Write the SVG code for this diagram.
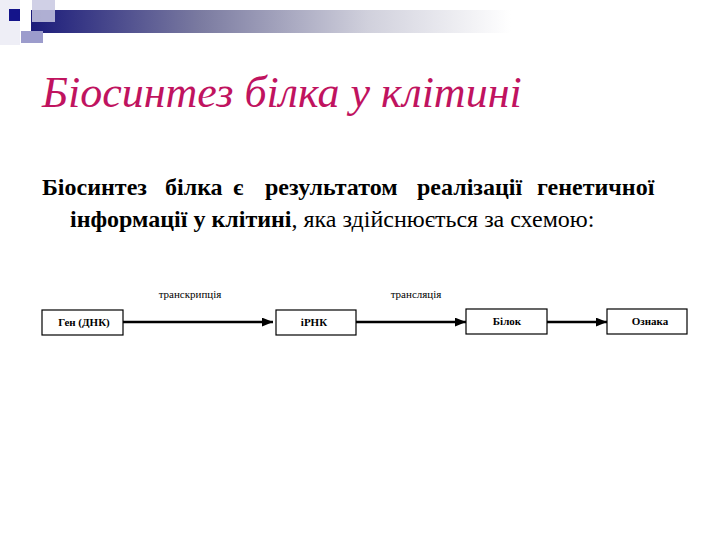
<svg xmlns="http://www.w3.org/2000/svg" width="720" height="540" viewBox="0 0 720 540">
<style>
.title{font-style:italic;font-size:44px;fill:#c0135f}
.body{font-size:24px;fill:#000}
.b{font-weight:bold}
.box{fill:#fff;stroke:#000;stroke-width:1.2}
.lbl{font-size:11px;font-weight:bold;text-anchor:middle;fill:#000}
.edge{font-size:11px;text-anchor:middle;fill:#000}
.conn{stroke:#000;stroke-width:2.5;fill:none}
</style>
<defs>
<linearGradient id="bar" x1="0" y1="0" x2="1" y2="0">
<stop offset="0" stop-color="#1b1b7a"/>
<stop offset="0.35" stop-color="#7a7aa0"/>
<stop offset="0.7" stop-color="#d0d0dc"/>
<stop offset="1" stop-color="#ffffff"/>
</linearGradient>
<marker id="ah" viewBox="0 0 10 10" refX="10" refY="5" markerWidth="4.5" markerHeight="3.6" orient="auto" markerUnits="strokeWidth" preserveAspectRatio="none">
<path d="M0,0 L10,5 L0,10 z" fill="#000"/>
</marker>
</defs>
<rect width="720" height="540" fill="#fff"/>
<g id="decor">
<rect x="0" y="0" width="20" height="45" fill="#eeeef6"/>
<rect x="31" y="10" width="480" height="23" fill="url(#bar)"/>
<rect x="32" y="0" width="23" height="22" fill="#c8c8e2" opacity="0.85"/>
<rect x="21" y="31" width="22" height="12" fill="#9c9ccc"/>
<rect x="9" y="9" width="11" height="12" fill="#14148a"/>
</g>
<text class="title" style="font-family:'Liberation Serif',serif" x="42" y="107">Біосинтез білка у клітині</text>
<g id="paragraph" font-family="Liberation Serif">
<text class="body b" style="font-family:'Liberation Serif',serif" y="195"><tspan x="42">Біосинтез</tspan><tspan x="165">білка</tspan><tspan x="233">є</tspan><tspan x="265">результатом</tspan><tspan x="417">реалізації</tspan><tspan x="537">генетичної</tspan></text>
<text class="body" style="font-family:'Liberation Serif',serif" x="70" y="227"><tspan class="b">інформації у клітині</tspan>, яка здійснюється за схемою:</text>
</g>
<g id="connectors" font-family="Liberation Serif">
<line class="conn" x1="123" y1="322" x2="273" y2="322" marker-end="url(#ah)"/>
<line class="conn" x1="356" y1="322" x2="466" y2="322" marker-end="url(#ah)"/>
<line class="conn" x1="547" y1="322" x2="607" y2="322" marker-end="url(#ah)"/>
<text class="edge" style="font-family:'Liberation Serif',serif" x="190" y="298">транскрипція</text>
<text class="edge" style="font-family:'Liberation Serif',serif" x="416" y="298">трансляція</text>
</g>
<g id="n1" font-family="Liberation Serif"><rect class="box" x="42" y="310" width="81" height="25"/><text class="lbl" style="font-family:'Liberation Serif',serif" x="84" y="326">Ген (ДНК)</text></g>
<g id="n2" font-family="Liberation Serif"><rect class="box" x="276" y="310" width="80" height="25"/><text class="lbl" style="font-family:'Liberation Serif',serif" x="314" y="326">іРНК</text></g>
<g id="n3" font-family="Liberation Serif"><rect class="box" x="466" y="309" width="81" height="25"/><text class="lbl" style="font-family:'Liberation Serif',serif" x="507" y="325">Білок</text></g>
<g id="n4" font-family="Liberation Serif"><rect class="box" x="607" y="309" width="80" height="25"/><text class="lbl" style="font-family:'Liberation Serif',serif" x="650" y="325">Ознака</text></g>
</svg>
